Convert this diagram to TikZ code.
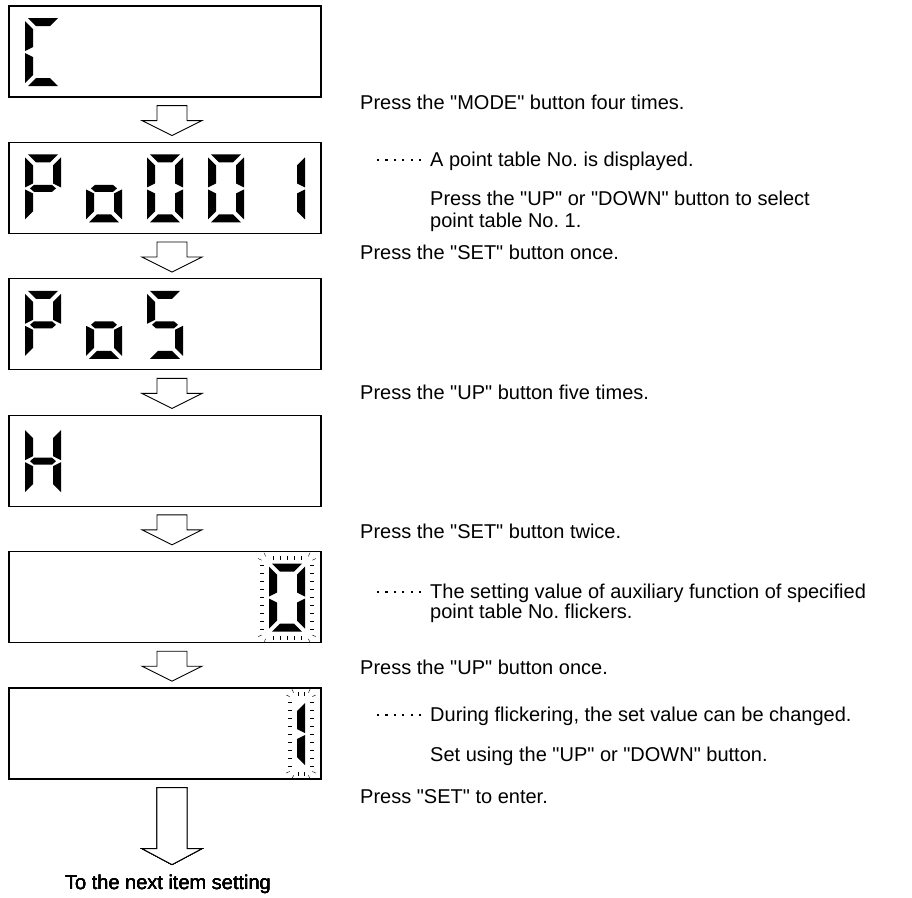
\documentclass[tikz,border=0pt]{standalone}
\usepackage{fontspec}
\setmainfont{Liberation Sans}
\frenchspacing
\tikzset{
  dispbox/.style={draw, line width=1.2pt, minimum width=312pt, minimum height=91pt, inner sep=0pt},
  blockarrow/.style={draw, fill=white, line width=0.9pt, line join=miter},
  note/.style={anchor=base west, inner sep=0pt},
  sega/.pic={\fill (3,0) -- (33,0) -- (25,8) -- (11,8) -- cycle;},
  segb/.pic={\fill (36,3) -- (28,11) -- (28,29) -- (36,33) -- cycle;},
  segc/.pic={\fill (36,35) -- (28,39) -- (28,57) -- (36,65) -- cycle;},
  segd/.pic={\fill (3,68) -- (33,68) -- (25,60) -- (11,60) -- cycle;},
  sege/.pic={\fill (0,35) -- (8,39) -- (8,57) -- (0,65) -- cycle;},
  segf/.pic={\fill (0,3) -- (8,11) -- (8,29) -- (0,33) -- cycle;},
  segg/.pic={\fill (5,34) -- (9,30.5) -- (27,30.5) -- (31,34) -- (27,37.5) -- (9,37.5) -- cycle;}
}
\newcommand{\qt}[1]{\textquotedbl#1\textquotedbl}
\newcommand{\sevenseg}[3]{\foreach \sg in {#3} \pic at (#1,#2) {seg\sg};}
\newcommand{\flicker}[5]{%
  \foreach \i in {0,...,8} \draw (#1-9,#2+2+8*\i) -- ++(4,0) (#3+5,#2+2+8*\i) -- ++(4,0);
  \foreach \x in {#5} \draw (\x,#2-8) -- ++(0,4) (\x,#4+4) -- ++(0,4);
  \foreach \cx/\cy/\a in {#1/#2/205, #1/#2/245, #3/#2/295, #3/#2/335, #3/#4/25, #3/#4/65, #1/#4/115, #1/#4/155}
    \draw (\cx,\cy) ++(\a:8) -- ++(\a:4);}
\newcommand{\bigarrow}[3]{\draw[blockarrow] (#1.south) ++(-8,8) -- ++(30,0) -- ++(0,#2) -- ++(15,0) -- ++(-30,#3) -- ++(-30,-#3) -- ++(15,0) -- cycle;}
\newcommand{\leader}[1]{\foreach \i in {0,...,5} \fill (377+8.4*\i,#1-7) rectangle ++(2.2,2.2);}

\begin{document}
\begin{tikzpicture}[x=1pt, y=-1pt, font=\fontsize{20pt}{22pt}\selectfont]
  \useasboundingbox (0,0) rectangle (912,897);
  \foreach \i/\y in {1/51.5, 2/187.9, 3/324.3, 4/460.7, 5/597.1, 6/733.5}
    \node[dispbox] (disp\i) at (165,\y) {};
  \foreach \i in {1,...,5} \bigarrow{disp\i}{15}{15}
  \bigarrow{disp6}{61}{16}
  \node[anchor=base] (next) at (168,889) {To the next item setting};
  % displays
  \sevenseg{25}{18}{a,d,e,f}
  \sevenseg{25}{154.4}{a,b,e,f,g} \sevenseg{86}{154.4}{c,d,e,g}
  \sevenseg{147}{154.4}{a,b,c,d,e,f} \sevenseg{208}{154.4}{a,b,c,d,e,f} \sevenseg{269}{154.4}{b,c}
  \sevenseg{25}{290.8}{a,b,e,f,g} \sevenseg{86}{290.8}{c,d,e,g} \sevenseg{147}{290.8}{a,c,d,f,g}
  \sevenseg{25}{427.2}{b,c,e,f,g}
  \sevenseg{269}{563.6}{a,b,c,d,e,f} \flicker{269}{563.6}{305}{631.6}{273,280,287,294,301}
  \sevenseg{269}{700}{b,c} \flicker{297}{700}{305}{768}{298,304}
  % texts
  \node[note] (mode) at (360,109) {Press the \qt{MODE} button four times.};
  \leader{166} \node[note] (shown) at (430,166) {A point table No. is displayed.};
  \node[note] (select) at (430,205) {Press the \qt{UP} or \qt{DOWN} button to select};
  \node[note] (select2) at (430,227) {point table No. 1.};
  \node[note] (setonce) at (360,259) {Press the \qt{SET} button once.};
  \node[note] (upfive) at (360,399) {Press the \qt{UP} button five times.};
  \node[note] (settwice) at (360,538) {Press the \qt{SET} button twice.};
  \leader{598} \node[note] (flick) at (430,598) {The setting value of auxiliary function of specified};
  \node[note] (flick2) at (430,618) {point table No. flickers.};
  \node[note] (uponce) at (360,674) {Press the \qt{UP} button once.};
  \leader{721} \node[note] (change) at (430,721) {During flickering, the set value can be changed.};
  \node[note] (setusing) at (430,761) {Set using the \qt{UP} or \qt{DOWN} button.};
  \node[note] (enter) at (360,803) {Press \qt{SET} to enter.};
\end{tikzpicture}
\end{document}
